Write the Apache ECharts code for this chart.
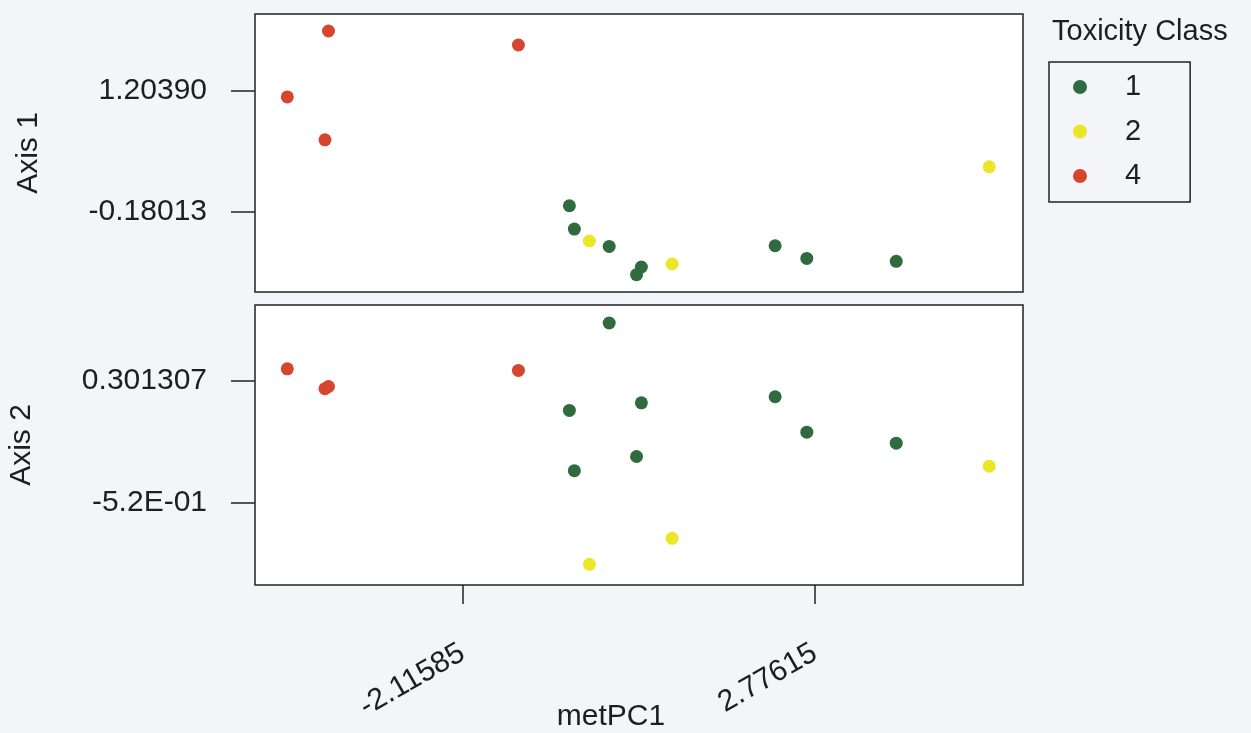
<!DOCTYPE html>
<html>
<head>
<meta charset="utf-8">
<script src="https://cdn.jsdelivr.net/npm/echarts@6/dist/echarts.min.js"></script>
<style>
html,body{margin:0;padding:0;background:#f3f5f9;}
#chart{width:1251px;height:733px;}
</style>
</head>
<body>
<div id="chart"></div>
<script>
// ---- data ----
const metPC1 = [-4.551, -3.979, -4.028, -1.341, -0.633, -0.564, -0.355, -0.080, 0.367, 0.300, 0.794, 2.225, 2.665, 3.907, 5.199];
const axis1  = [ 1.132,  1.883,  0.643,  1.724, -0.108, -0.374, -0.510, -0.572, -0.806, -0.894, -0.772, -0.564, -0.708, -0.742, 0.335];
const axis2  = [ 0.380,  0.261,  0.246,  0.369,  0.100, -0.305, -0.935,  0.688,  0.151, -0.210, -0.760,  0.192, -0.046, -0.120, -0.275];
const toxClass = ['4','4','4','4','1','1','2','1','1','1','2','1','1','1','2'];

const classNames = ['1', '2', '4'];
const classColors = ['#2f6b3f', '#ece629', '#d6452d'];

const xTickValues = [-2.11585, 2.77615];
const xTickLabels = ['-2.11585', '2.77615'];
const axis1TickValues = [1.20390, -0.18013];
const axis1TickLabels = ['1.20390', '-0.18013'];
const axis2TickValues = [0.301307, -0.52];
const axis2TickLabels = ['0.301307', '-5.2E-01'];

const xRange = [-5.0, 5.668];
const axis1Range = [-1.091, 2.077];
const axis2Range = [-1.074, 0.809];

function lookup(vals, labels) {
  return function (v) {
    for (let i = 0; i < vals.length; i++) if (Math.abs(vals[i] - v) < 1e-6) return labels[i];
    return '';
  };
}

const FONT = '"Liberation Sans", Arial, sans-serif';
const TXT = '#1e1e1e';
const FS = 30;

function pts(yArr, cls) {
  const out = [];
  for (let i = 0; i < metPC1.length; i++) if (toxClass[i] === cls) out.push([metPC1[i], yArr[i]]);
  return out;
}

const series = [];
classNames.forEach((c, k) => {
  series.push({ name: c, type: 'scatter', xAxisIndex: 0, yAxisIndex: 0, data: pts(axis1, c),
    symbolSize: 13, itemStyle: { color: classColors[k], opacity: 1 } });
  series.push({ name: c, type: 'scatter', xAxisIndex: 1, yAxisIndex: 1, data: pts(axis2, c),
    symbolSize: 13, itemStyle: { color: classColors[k], opacity: 1 } });
});

const chart = echarts.init(document.getElementById('chart'), null, { renderer: 'canvas' });
chart.setOption({
  backgroundColor: '#f3f5f9',
  animation: false,
  textStyle: { fontFamily: FONT },
  title: {
    text: 'Toxicity Class', left: 1052, top: 17, padding: 0,
    textStyle: { fontFamily: FONT, fontSize: 29, fontWeight: 'normal', color: TXT }
  },
  legend: {
    data: classNames,
    orient: 'vertical', left: 1049, top: 62,
    borderColor: '#222', borderWidth: 1.5, borderRadius: 0,
    padding: [10, 49, 11, 24],
    icon: 'circle', itemWidth: 14, itemHeight: 14, itemGap: 14.5,
    textStyle: { fontFamily: FONT, fontSize: 29, color: TXT, lineHeight: 30, padding: [0, 0, 0, 33] }
  },
  grid: [
    { left: 255, top: 14, width: 768, height: 278, outerBoundsMode: 'none', containLabel: false,
      show: true, backgroundColor: '#ffffff', borderColor: '#222', borderWidth: 1.5 },
    { left: 255, top: 305, width: 768, height: 280, outerBoundsMode: 'none', containLabel: false,
      show: true, backgroundColor: '#ffffff', borderColor: '#222', borderWidth: 1.5 }
  ],
  xAxis: [
    { type: 'value', gridIndex: 0, min: xRange[0], max: xRange[1], show: false, splitLine: { show: false } },
    { type: 'value', gridIndex: 1, min: xRange[0], max: xRange[1], position: 'bottom',
      name: 'metPC1', nameLocation: 'middle', nameGap: 117, nameMoveOverlap: false,
      nameTextStyle: { fontFamily: FONT, fontSize: FS, color: TXT, padding: [0, 56, 0, 0] },
      axisLine: { show: false, onZero: false },
      splitLine: { show: false },
      axisTick: { show: true, customValues: xTickValues, length: 19, lineStyle: { color: '#222', width: 1.5 } },
      axisLabel: { show: true, customValues: xTickValues, formatter: lookup(xTickValues, xTickLabels),
        rotate: 30, margin: 66, fontFamily: FONT, fontSize: FS, color: TXT }
    }
  ],
  yAxis: [
    { type: 'value', gridIndex: 0, min: axis1Range[0], max: axis1Range[1], position: 'left',
      name: 'Axis 1', nameLocation: 'middle', nameRotate: 90, nameGap: 211, nameMoveOverlap: false,
      nameTextStyle: { fontFamily: FONT, fontSize: FS, color: TXT },
      axisLine: { show: false, onZero: false }, splitLine: { show: false },
      axisTick: { show: true, customValues: axis1TickValues, length: 24, lineStyle: { color: '#222', width: 1.5 } },
      axisLabel: { show: true, customValues: axis1TickValues, formatter: lookup(axis1TickValues, axis1TickLabels),
        margin: 48, fontFamily: FONT, fontSize: FS, color: TXT }
    },
    { type: 'value', gridIndex: 1, min: axis2Range[0], max: axis2Range[1], position: 'left',
      name: 'Axis 2', nameLocation: 'middle', nameRotate: 90, nameGap: 218, nameMoveOverlap: false,
      nameTextStyle: { fontFamily: FONT, fontSize: FS, color: TXT },
      axisLine: { show: false, onZero: false }, splitLine: { show: false },
      axisTick: { show: true, customValues: axis2TickValues, length: 24, lineStyle: { color: '#222', width: 1.5 } },
      axisLabel: { show: true, customValues: axis2TickValues, formatter: lookup(axis2TickValues, axis2TickLabels),
        margin: 48, fontFamily: FONT, fontSize: FS, color: TXT }
    }
  ],
  series: series
});
</script>
</body>
</html>
